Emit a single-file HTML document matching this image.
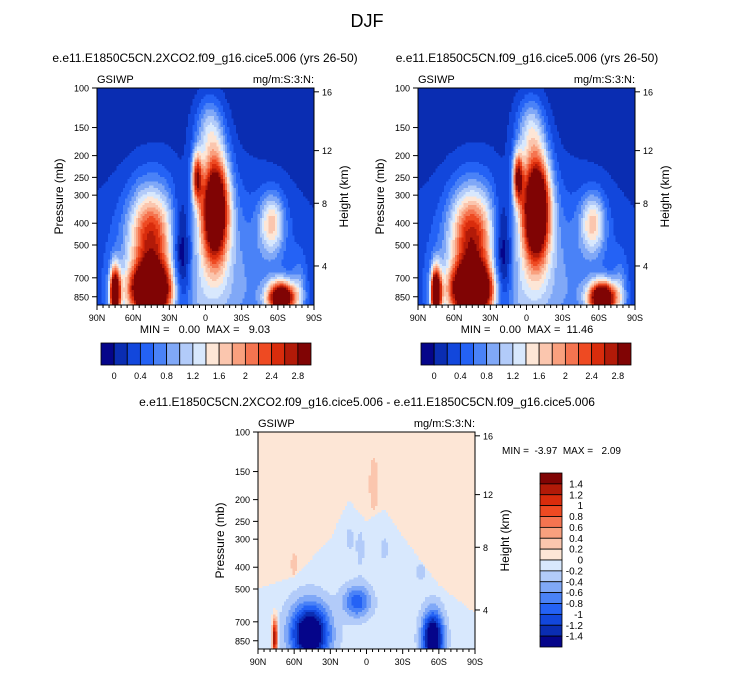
<!DOCTYPE html>
<html><head><meta charset="utf-8"><style>
body{margin:0;background:#fff;}
svg{display:block;font-family:"Liberation Sans",sans-serif;}
text{white-space:pre;}
</style></head><body>
<svg id="s" width="733" height="673" viewBox="0 0 733 673"></svg>
<script>
// ---------- data ----------
const pressureTicks=[100,150,200,250,300,400,500,700,850];
const heightTicks=[16,12,8,4];
const heightTickPress=[104,190,326,620];
const latTicks=[90,60,30,0,-30,-60,-90];
const latLabels=["90N","60N","30N","0","30S","60S","90S"];
const absLevels=[0,0.2,0.4,0.6,0.8,1.0,1.2,1.4,1.6,1.8,2.0,2.2,2.4,2.6,2.8];
const absLabels=["0","0.4","0.8","1.2","1.6","2","2.4","2.8"];
const diffLevels=[-1.4,-1.2,-1,-0.8,-0.6,-0.4,-0.2,0,0.2,0.4,0.6,0.8,1,1.2,1.4];
const palette=["#05058a","#0a2db2","#1247dc","#2462f5","#4a82f7","#80a8f7","#b2cbf9","#d8e8fd","#fde6d6","#fbc6ae","#f9a07e","#f57450","#ee4a22","#d92c0c","#b21a08","#800404"];
// blobs: lat, pressure, sigma lat, sigma log10p, amplitude
const blobLat1=[5,-8,7,46,46,75,-63,-55,20,-3,-78,15];
const blobP1=[650,340,250,460,800,820,860,400,620,150,800,900];
const blobSL1=[55,8,3,12,12,3,8,7,6,8,4,40];
const blobSP1=[0.28,0.17,0.08,0.15,0.08,0.08,0.05,0.09,0.2,0.1,0.1,0.1];
const blobA1=[0.85,3.7,2.1,2.0,3.8,3.5,3.6,1.3,-1.2,0.8,0.5,0.2];
const blobA2=[0.85,4.0,2.3,2.1,4.0,3.6,3.8,1.3,-1.2,0.85,0.5,0.2];
const lineLat=[90,60,30,15,0,-15,-30,-60,-90];
const lineP=[500,440,300,200,250,220,290,480,640];
const dLat=[8,47,-55,76,-6,5,-45,60,14,-15];
const dP=[570,790,830,820,170,330,420,390,300,330];
const dSL=[8,11,6,1.5,3,3,4,2,3,3];
const dSP=[0.05,0.09,0.08,0.06,0.1,0.08,0.04,0.04,0.05,0.05];
const dA=[-0.85,-1.9,-1.9,1.6,0.2,-0.15,-0.15,0.2,-0.15,-0.15];
const minMax1="MIN =   0.00  MAX =   9.03";
const minMax2="MIN =   0.00  MAX =  11.46";
const minMax3="MIN =  -3.97  MAX =   2.09";

// ---------- helpers ----------
const NS="http://www.w3.org/2000/svg";
const svg=document.getElementById('s');
function mk(tag,attrs,parent){const e=document.createElementNS(NS,tag);for(const k in attrs)e.setAttribute(k,attrs[k]);(parent||svg).appendChild(e);return e;}
function txt(x,y,s,size,anchor,parent,name){const t=mk('text',{x:x,y:y,'font-size':size,'text-anchor':anchor||'start',fill:'#000'},parent);t.textContent=s;


return t;}
const PBOT=925;
function field1(lat,p,amps){let v=0.08;const lp=Math.log10(p);for(let i=0;i<blobLat1.length;i++){const a=(lat-blobLat1[i])/blobSL1[i],b=(lp-Math.log10(blobP1[i]))/blobSP1[i];v+=amps[i]*Math.exp(-(a*a+b*b)/2);}return v;}
function interpLine(lat){for(let i=0;i<lineLat.length-1;i++){if(lat<=lineLat[i]&&lat>=lineLat[i+1]){const t=(lineLat[i]-lat)/(lineLat[i]-lineLat[i+1]);return Math.exp(Math.log(lineP[i])*(1-t)+Math.log(lineP[i+1])*t);}}return 500;}
function fieldD(lat,p){let v=p<interpLine(lat)?0.1:-0.1;const lp=Math.log10(p);for(let i=0;i<dLat.length;i++){const a=(lat-dLat[i])/dSL[i],b=(lp-Math.log10(dP[i]))/dSP[i];v+=dA[i]*Math.exp(-(a*a+b*b)/2);}return v;}
function colorFor(v,levels){let k=0;while(k<levels.length&&v>=levels[k])k++;return palette[k];}

function panel(x0,y0,fn,levels,title,tx,name){
  const W=217,H=217;
  const g=mk('g',{});
  
  
  const xs=lat=>x0+(90-lat)/180*W;
  const ys=p=>y0+Math.log10(p/100)/Math.log10(PBOT/100)*H;
  const N=100,cw=W/N,ch=H/N;
  const cells=mk('g',{'shape-rendering':'crispEdges'},g);
  
  
  for(let j=0;j<N;j++){
    const p=100*Math.pow(PBOT/100,(j+0.5)/N);
    let start=0,cur=null;
    for(let i=0;i<=N;i++){
      const c=i<N?colorFor(fn(90-(i+0.5)/N*180,p),levels):null;
      if(c!==cur){ if(cur!==null){mk('rect',{x:(x0+start*cw).toFixed(2),y:(y0+j*ch).toFixed(2),width:((i-start)*cw+0.4).toFixed(2),height:(ch+0.4).toFixed(2),fill:cur},cells);} cur=c;start=i;}
    }
  }
  mk('rect',{x:x0,y:y0,width:W,height:H,fill:'none',stroke:'#000','stroke-width':1},g);
  pressureTicks.forEach(p=>{const y=ys(p);mk('line',{x1:x0-5,y1:y,x2:x0,y2:y,stroke:'#000'},g);txt(x0-8,y+3.5,String(p),9,'end',g,'pressure-tick-label');});
  heightTicks.forEach((h,i)=>{const y=ys(heightTickPress[i]);mk('line',{x1:x0+W,y1:y,x2:x0+W+5,y2:y,stroke:'#000'},g);txt(x0+W+8,y+3.5,String(h),9,'start',g,'height-tick-label');});
  latTicks.forEach((l,i)=>{const x=xs(l);mk('line',{x1:x,y1:y0+H,x2:x,y2:y0+H+5,stroke:'#000'},g);txt(x,y0+H+16,latLabels[i],9,'middle',g,'lat-tick-label');});
  for(let l=85;l>-90;l-=5){if(l%30===0)continue;const x=xs(l);mk('line',{x1:x,y1:y0+H,x2:x,y2:y0+H+3,stroke:'#000'},g);}
  txt(x0,y0-5,"GSIWP",11,'start',g,'variable-label');
  txt(x0+W,y0-5,"mg/m:S:3:N:",11,'end',g,'units-label');
  const yl=txt(0,0,"Pressure (mb)",12,'middle',g,'y-axis-title');yl.setAttribute('transform',`translate(${x0-34},${y0+H/2}) rotate(-90)`);
  const hl=txt(0,0,"Height (km)",12,'middle',g,'right-axis-title');hl.setAttribute('transform',`translate(${x0+W+34},${y0+H/2}) rotate(-90)`);
  txt(tx,y0-26,title,12,'middle',g,'panel-title');
}
function hbar(x0,y0,levels,labels,name){
  const g=mk('g',{});
  
  
  const n=levels.length+1,w=210/n;
  for(let k=0;k<n;k++){mk('rect',{x:x0+k*w,y:y0,width:w,height:22,fill:palette[k],stroke:'#000','stroke-width':0.8},g);}
  levels.forEach((l,k)=>{const lab=(Math.round(l*10)/10).toString();if(labels.indexOf(lab)>=0)txt(x0+(k+1)*w,y0+36,lab,9,'middle',g,'colorbar-label');});
}
function vbar(x0,y0,levels,name){
  const g=mk('g',{});
  
  
  const n=levels.length+1,h=174/n;
  for(let k=0;k<n;k++){mk('rect',{x:x0,y:y0+k*h,width:22,height:h,fill:palette[n-1-k],stroke:'#000','stroke-width':0.8},g);}
  levels.forEach((l,k)=>{const idx=levels.length-1-k;const lab=(Math.round(levels[idx]*10)/10).toString();txt(x0+43,y0+(k+1)*h+3.5,lab,10,'end',g,'colorbar-label');});
}
txt(367,27,"DJF",18,'middle',svg,'figure-title');
panel(97,88,(la,p)=>field1(la,p,blobA1),absLevels,"e.e11.E1850C5CN.2XCO2.f09_g16.cice5.006 (yrs 26-50)",205,'panel-2xco2');
panel(418,88,(la,p)=>field1(la,p,blobA2),absLevels,"e.e11.E1850C5CN.f09_g16.cice5.006 (yrs 26-50)",527,'panel-control');
panel(258,432,fieldD,diffLevels,"e.e11.E1850C5CN.2XCO2.f09_g16.cice5.006 - e.e11.E1850C5CN.f09_g16.cice5.006",367,'panel-difference');
txt(205,333,minMax1,11,'middle',svg,'min-max-1');
txt(527,333,minMax2,11,'middle',svg,'min-max-2');
txt(502,454,minMax3,10,'start',svg,'min-max-diff');
hbar(101,343,absLevels,absLabels,'colorbar-1');
hbar(421,343,absLevels,absLabels,'colorbar-2');
vbar(540,473,diffLevels,'colorbar-diff');
</script>
</body></html>
